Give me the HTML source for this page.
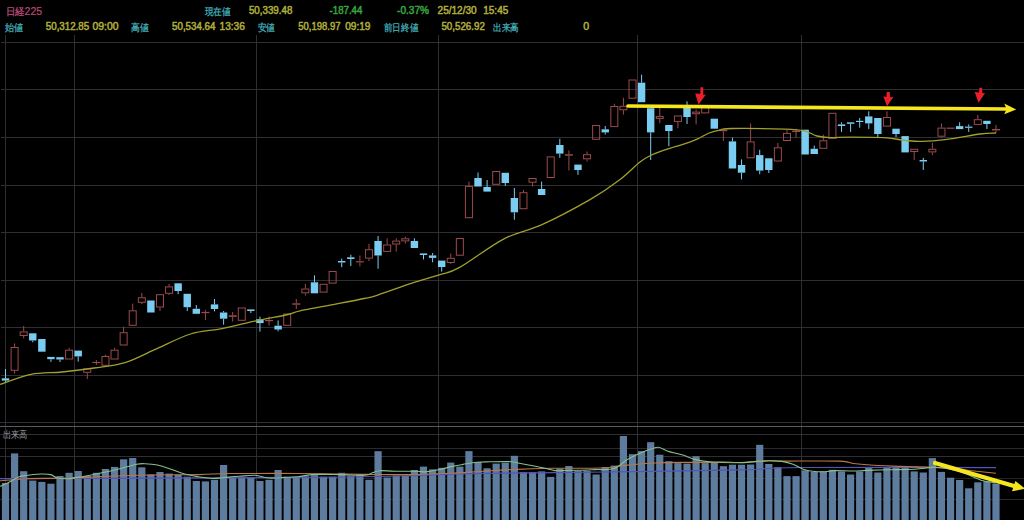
<!DOCTYPE html>
<html><head><meta charset="utf-8"><style>
html,body{margin:0;padding:0;background:#000;width:1024px;height:520px;overflow:hidden}
svg{display:block}
text{font-family:"Liberation Sans",sans-serif;font-size:10px}
</style></head><body>
<svg width="1024" height="520" viewBox="0 0 1024 520">
<rect width="1024" height="520" fill="#000"/>
<rect x="1" y="42" width="1023" height="1" fill="#2e2e33"/>
<rect x="1" y="89" width="1023" height="1" fill="#2e2e33"/>
<rect x="1" y="137" width="1023" height="1" fill="#2e2e33"/>
<rect x="1" y="185" width="1023" height="1" fill="#2e2e33"/>
<rect x="1" y="232" width="1023" height="1" fill="#2e2e33"/>
<rect x="1" y="280" width="1023" height="1" fill="#2e2e33"/>
<rect x="1" y="327" width="1023" height="1" fill="#2e2e33"/>
<rect x="1" y="375" width="1023" height="1" fill="#2e2e33"/>
<rect x="5" y="35" width="1" height="485" fill="#2e2e33"/>
<rect x="74" y="35" width="1" height="485" fill="#2e2e33"/>
<rect x="256" y="35" width="1" height="485" fill="#2e2e33"/>
<rect x="438" y="35" width="1" height="485" fill="#2e2e33"/>
<rect x="637" y="35" width="1" height="485" fill="#2e2e33"/>
<rect x="801" y="35" width="1" height="485" fill="#2e2e33"/>
<rect x="0" y="422" width="1024" height="1" fill="#303034"/>
<rect x="0" y="426" width="1024" height="1" fill="#5a5a5e"/>
<rect x="0" y="434" width="1024" height="1" fill="#2e2e33"/>
<rect x="0" y="448" width="1024" height="1" fill="#2a2a2e"/>
<rect x="0" y="456" width="1024" height="1" fill="#2e2e33"/>
<rect x="0" y="478" width="1024" height="1" fill="#222226"/>
<rect x="0" y="499" width="1024" height="1" fill="#2a2a2e"/>
<rect x="1.90" y="483.0" width="7.2" height="37.0" fill="#5e7c9e"/>
<rect x="10.99" y="453.4" width="7.2" height="66.6" fill="#5e7c9e"/>
<rect x="20.07" y="471.2" width="7.2" height="48.8" fill="#5e7c9e"/>
<rect x="29.16" y="480.6" width="7.2" height="39.4" fill="#5e7c9e"/>
<rect x="38.25" y="481.9" width="7.2" height="38.1" fill="#5e7c9e"/>
<rect x="47.34" y="483.7" width="7.2" height="36.3" fill="#5e7c9e"/>
<rect x="56.42" y="476.0" width="7.2" height="44.0" fill="#5e7c9e"/>
<rect x="65.51" y="472.8" width="7.2" height="47.2" fill="#5e7c9e"/>
<rect x="74.60" y="471.0" width="7.2" height="49.0" fill="#5e7c9e"/>
<rect x="83.68" y="476.0" width="7.2" height="44.0" fill="#5e7c9e"/>
<rect x="92.77" y="472.8" width="7.2" height="47.2" fill="#5e7c9e"/>
<rect x="101.86" y="469.0" width="7.2" height="51.0" fill="#5e7c9e"/>
<rect x="110.94" y="466.9" width="7.2" height="53.1" fill="#5e7c9e"/>
<rect x="120.03" y="459.3" width="7.2" height="60.7" fill="#5e7c9e"/>
<rect x="129.12" y="458.0" width="7.2" height="62.0" fill="#5e7c9e"/>
<rect x="138.21" y="467.3" width="7.2" height="52.7" fill="#5e7c9e"/>
<rect x="147.29" y="474.4" width="7.2" height="45.6" fill="#5e7c9e"/>
<rect x="156.38" y="472.0" width="7.2" height="48.0" fill="#5e7c9e"/>
<rect x="165.47" y="473.6" width="7.2" height="46.4" fill="#5e7c9e"/>
<rect x="174.55" y="474.7" width="7.2" height="45.3" fill="#5e7c9e"/>
<rect x="183.64" y="476.7" width="7.2" height="43.3" fill="#5e7c9e"/>
<rect x="192.73" y="481.0" width="7.2" height="39.0" fill="#5e7c9e"/>
<rect x="201.81" y="481.4" width="7.2" height="38.6" fill="#5e7c9e"/>
<rect x="210.90" y="479.8" width="7.2" height="40.2" fill="#5e7c9e"/>
<rect x="219.99" y="465.0" width="7.2" height="55.0" fill="#5e7c9e"/>
<rect x="229.07" y="477.5" width="7.2" height="42.5" fill="#5e7c9e"/>
<rect x="238.16" y="477.5" width="7.2" height="42.5" fill="#5e7c9e"/>
<rect x="247.25" y="477.5" width="7.2" height="42.5" fill="#5e7c9e"/>
<rect x="256.34" y="481.0" width="7.2" height="39.0" fill="#5e7c9e"/>
<rect x="265.42" y="479.8" width="7.2" height="40.2" fill="#5e7c9e"/>
<rect x="274.51" y="470.0" width="7.2" height="50.0" fill="#5e7c9e"/>
<rect x="283.60" y="477.2" width="7.2" height="42.8" fill="#5e7c9e"/>
<rect x="292.68" y="476.7" width="7.2" height="43.3" fill="#5e7c9e"/>
<rect x="301.77" y="476.2" width="7.2" height="43.8" fill="#5e7c9e"/>
<rect x="310.86" y="475.2" width="7.2" height="44.8" fill="#5e7c9e"/>
<rect x="319.94" y="476.7" width="7.2" height="43.3" fill="#5e7c9e"/>
<rect x="329.03" y="476.7" width="7.2" height="43.3" fill="#5e7c9e"/>
<rect x="338.12" y="472.8" width="7.2" height="47.2" fill="#5e7c9e"/>
<rect x="347.21" y="475.6" width="7.2" height="44.4" fill="#5e7c9e"/>
<rect x="356.29" y="474.0" width="7.2" height="46.0" fill="#5e7c9e"/>
<rect x="365.38" y="479.8" width="7.2" height="40.2" fill="#5e7c9e"/>
<rect x="374.47" y="451.2" width="7.2" height="68.8" fill="#5e7c9e"/>
<rect x="383.55" y="477.5" width="7.2" height="42.5" fill="#5e7c9e"/>
<rect x="392.64" y="475.6" width="7.2" height="44.4" fill="#5e7c9e"/>
<rect x="401.73" y="475.6" width="7.2" height="44.4" fill="#5e7c9e"/>
<rect x="410.81" y="470.0" width="7.2" height="50.0" fill="#5e7c9e"/>
<rect x="419.90" y="466.6" width="7.2" height="53.4" fill="#5e7c9e"/>
<rect x="428.99" y="469.4" width="7.2" height="50.6" fill="#5e7c9e"/>
<rect x="438.08" y="467.8" width="7.2" height="52.2" fill="#5e7c9e"/>
<rect x="447.16" y="462.6" width="7.2" height="57.4" fill="#5e7c9e"/>
<rect x="456.25" y="466.6" width="7.2" height="53.4" fill="#5e7c9e"/>
<rect x="465.34" y="451.1" width="7.2" height="68.9" fill="#5e7c9e"/>
<rect x="474.42" y="462.0" width="7.2" height="58.0" fill="#5e7c9e"/>
<rect x="483.51" y="468.3" width="7.2" height="51.7" fill="#5e7c9e"/>
<rect x="492.60" y="463.6" width="7.2" height="56.4" fill="#5e7c9e"/>
<rect x="501.68" y="462.8" width="7.2" height="57.2" fill="#5e7c9e"/>
<rect x="510.77" y="455.8" width="7.2" height="64.2" fill="#5e7c9e"/>
<rect x="519.86" y="472.2" width="7.2" height="47.8" fill="#5e7c9e"/>
<rect x="528.95" y="472.2" width="7.2" height="47.8" fill="#5e7c9e"/>
<rect x="538.03" y="471.4" width="7.2" height="48.6" fill="#5e7c9e"/>
<rect x="547.12" y="476.9" width="7.2" height="43.1" fill="#5e7c9e"/>
<rect x="556.21" y="468.8" width="7.2" height="51.2" fill="#5e7c9e"/>
<rect x="565.29" y="466.0" width="7.2" height="54.0" fill="#5e7c9e"/>
<rect x="574.38" y="471.0" width="7.2" height="49.0" fill="#5e7c9e"/>
<rect x="583.47" y="471.0" width="7.2" height="49.0" fill="#5e7c9e"/>
<rect x="592.55" y="474.5" width="7.2" height="45.5" fill="#5e7c9e"/>
<rect x="601.64" y="467.2" width="7.2" height="52.8" fill="#5e7c9e"/>
<rect x="610.73" y="465.6" width="7.2" height="54.4" fill="#5e7c9e"/>
<rect x="619.82" y="436.0" width="7.2" height="84.0" fill="#5e7c9e"/>
<rect x="628.90" y="454.2" width="7.2" height="65.8" fill="#5e7c9e"/>
<rect x="637.99" y="451.1" width="7.2" height="68.9" fill="#5e7c9e"/>
<rect x="647.08" y="442.2" width="7.2" height="77.8" fill="#5e7c9e"/>
<rect x="656.16" y="454.7" width="7.2" height="65.3" fill="#5e7c9e"/>
<rect x="665.25" y="461.2" width="7.2" height="58.8" fill="#5e7c9e"/>
<rect x="674.34" y="463.1" width="7.2" height="56.9" fill="#5e7c9e"/>
<rect x="683.42" y="463.6" width="7.2" height="56.4" fill="#5e7c9e"/>
<rect x="692.51" y="456.2" width="7.2" height="63.8" fill="#5e7c9e"/>
<rect x="701.60" y="463.1" width="7.2" height="56.9" fill="#5e7c9e"/>
<rect x="710.69" y="462.8" width="7.2" height="57.2" fill="#5e7c9e"/>
<rect x="719.77" y="466.2" width="7.2" height="53.8" fill="#5e7c9e"/>
<rect x="728.86" y="464.7" width="7.2" height="55.3" fill="#5e7c9e"/>
<rect x="737.95" y="464.7" width="7.2" height="55.3" fill="#5e7c9e"/>
<rect x="747.03" y="464.5" width="7.2" height="55.5" fill="#5e7c9e"/>
<rect x="756.12" y="444.8" width="7.2" height="75.2" fill="#5e7c9e"/>
<rect x="765.21" y="464.0" width="7.2" height="56.0" fill="#5e7c9e"/>
<rect x="774.29" y="467.2" width="7.2" height="52.8" fill="#5e7c9e"/>
<rect x="783.38" y="476.1" width="7.2" height="43.9" fill="#5e7c9e"/>
<rect x="792.47" y="476.1" width="7.2" height="43.9" fill="#5e7c9e"/>
<rect x="801.56" y="470.3" width="7.2" height="49.7" fill="#5e7c9e"/>
<rect x="810.64" y="471.9" width="7.2" height="48.1" fill="#5e7c9e"/>
<rect x="819.73" y="471.4" width="7.2" height="48.6" fill="#5e7c9e"/>
<rect x="828.82" y="469.8" width="7.2" height="50.2" fill="#5e7c9e"/>
<rect x="837.90" y="471.4" width="7.2" height="48.6" fill="#5e7c9e"/>
<rect x="846.99" y="474.5" width="7.2" height="45.5" fill="#5e7c9e"/>
<rect x="856.08" y="471.4" width="7.2" height="48.6" fill="#5e7c9e"/>
<rect x="865.16" y="467.2" width="7.2" height="52.8" fill="#5e7c9e"/>
<rect x="874.25" y="472.5" width="7.2" height="47.5" fill="#5e7c9e"/>
<rect x="883.34" y="467.5" width="7.2" height="52.5" fill="#5e7c9e"/>
<rect x="892.43" y="467.5" width="7.2" height="52.5" fill="#5e7c9e"/>
<rect x="901.51" y="467.8" width="7.2" height="52.2" fill="#5e7c9e"/>
<rect x="910.60" y="471.4" width="7.2" height="48.6" fill="#5e7c9e"/>
<rect x="919.69" y="472.5" width="7.2" height="47.5" fill="#5e7c9e"/>
<rect x="928.77" y="458.1" width="7.2" height="61.9" fill="#5e7c9e"/>
<rect x="937.86" y="471.9" width="7.2" height="48.1" fill="#5e7c9e"/>
<rect x="946.95" y="477.7" width="7.2" height="42.3" fill="#5e7c9e"/>
<rect x="956.03" y="480.0" width="7.2" height="40.0" fill="#5e7c9e"/>
<rect x="965.12" y="488.3" width="7.2" height="31.7" fill="#5e7c9e"/>
<rect x="974.21" y="482.3" width="7.2" height="37.7" fill="#5e7c9e"/>
<rect x="983.30" y="481.3" width="7.2" height="38.7" fill="#5e7c9e"/>
<rect x="992.38" y="483.5" width="7.2" height="36.5" fill="#5e7c9e"/>
<path d="M0.0,478.7 C50.0,478.5 233.3,477.8 300.0,477.4 C366.7,476.9 371.7,476.6 400.0,476.0 C428.3,475.4 435.8,474.4 470.0,473.7 C504.2,473.0 560.0,472.6 605.0,472.0 C650.0,471.4 707.5,470.6 740.0,469.9 C772.5,469.1 757.3,467.9 800.0,467.5 C842.7,467.1 963.3,467.7 996.0,467.7" fill="none" stroke="#5454b8" stroke-width="1.2"/>
<path d="M0.0,480.8 C4.6,480.4 16.0,479.2 27.4,478.7 C38.8,478.2 50.2,478.6 68.4,478.0 C86.6,477.4 115.1,475.9 136.8,475.3 C158.5,474.7 182.9,474.9 198.4,474.6 C213.9,474.3 213.3,473.7 230.0,473.5 C246.7,473.3 275.6,473.4 298.4,473.5 C321.2,473.6 348.2,474.2 366.8,474.4 C385.4,474.6 396.1,474.8 410.0,474.6 C423.9,474.4 438.3,473.8 450.0,473.3 C461.7,472.8 469.8,472.1 480.0,471.5 C490.2,470.9 499.0,470.1 511.0,469.6 C523.0,469.1 537.2,468.6 552.0,468.3 C566.8,468.0 587.4,468.5 600.0,468.0 C612.6,467.5 618.3,465.9 627.4,465.1 C636.5,464.3 645.6,463.4 654.7,463.0 C663.8,462.6 672.9,462.5 682.0,462.4 C691.1,462.3 699.7,462.4 709.4,462.4 C719.1,462.4 730.9,462.9 740.0,462.6 C749.1,462.4 756.8,461.1 764.2,460.9 C771.7,460.6 772.2,461.1 784.7,461.1 C797.2,461.1 828.0,460.7 839.4,461.1 C850.8,461.5 847.9,462.9 853.0,463.5 C858.1,464.1 862.0,464.5 870.0,465.0 C878.0,465.5 889.0,465.9 901.0,466.4 C913.0,466.9 930.6,467.1 942.0,467.8 C953.4,468.5 960.4,469.6 969.4,470.5 C978.4,471.4 991.6,472.8 996.0,473.3" fill="none" stroke="#b87848" stroke-width="1.1"/>
<path d="M0.0,486.3 C1.4,485.7 5.0,484.4 8.2,482.8 C11.4,481.2 16.0,477.9 19.2,476.7 C22.4,475.4 23.8,475.8 27.4,475.3 C31.0,474.9 37.1,474.1 41.0,474.0 C44.9,473.9 47.9,473.9 50.6,474.6 C53.4,475.3 54.5,477.3 57.5,478.0 C60.5,478.7 64.3,478.9 68.4,478.7 C72.5,478.5 77.4,477.5 82.0,476.7 C86.6,475.9 91.2,474.9 95.8,474.0 C100.4,473.1 104.9,472.2 109.4,471.2 C114.0,470.2 118.5,469.0 123.1,467.8 C127.7,466.6 133.2,464.9 136.8,464.2 C140.5,463.5 141.6,463.6 145.0,463.7 C148.4,463.8 153.1,464.1 157.4,465.0 C161.7,465.9 166.4,467.7 171.0,469.2 C175.6,470.7 180.1,472.8 184.7,474.0 C189.3,475.2 193.8,475.9 198.4,476.7 C203.0,477.4 207.4,478.4 212.0,478.5 C216.6,478.6 221.2,477.8 225.8,477.4 C230.4,477.0 234.5,476.6 239.4,476.3 C244.3,476.0 250.1,475.0 255.0,475.3 C259.9,475.6 264.1,477.6 269.0,478.0 C273.9,478.4 279.8,477.6 284.7,477.4 C289.6,477.2 293.8,477.2 298.4,476.7 C302.9,476.2 305.2,475.0 312.0,474.6 C318.8,474.2 330.6,474.5 339.4,474.6 C348.2,474.7 359.4,475.6 365.0,475.3 C370.6,475.0 370.3,473.4 372.8,472.6 C375.3,471.8 376.4,470.9 380.0,470.7 C383.6,470.5 388.6,471.1 394.7,471.2 C400.8,471.3 411.6,471.1 416.6,471.2 C421.6,471.3 421.2,472.1 424.8,471.9 C428.4,471.7 433.9,470.7 438.5,469.8 C443.1,468.9 448.1,467.3 452.2,466.4 C456.3,465.5 458.9,465.1 463.0,464.4 C467.1,463.7 472.3,462.6 476.8,462.2 C481.3,461.8 484.3,461.9 490.0,461.8 C495.7,461.7 506.1,461.4 511.0,461.7 C515.9,461.9 515.8,462.7 519.2,463.3 C522.6,463.9 527.3,464.7 531.6,465.5 C535.9,466.3 541.3,467.4 545.2,468.3 C549.1,469.2 551.4,470.2 554.8,470.6 C558.2,471.0 561.7,470.6 565.8,470.5 C569.9,470.4 574.5,470.4 579.4,470.3 C584.3,470.2 589.3,469.9 595.0,469.6 C600.7,469.3 608.3,470.3 613.7,468.6 C619.1,466.9 622.9,462.2 627.4,459.6 C631.9,457.0 636.9,454.6 641.0,452.8 C645.1,451.0 649.0,449.6 652.0,448.7 C655.0,447.8 656.1,446.9 658.8,447.3 C661.5,447.8 664.5,450.1 668.4,451.4 C672.3,452.6 677.4,453.4 682.0,454.8 C686.6,456.2 691.2,458.5 695.8,459.6 C700.4,460.8 704.9,461.3 709.4,461.7 C713.9,462.1 717.3,462.0 723.0,462.1 C728.7,462.2 738.0,462.7 743.7,462.6 C749.4,462.5 752.9,461.7 757.4,461.4 C761.9,461.1 766.9,460.7 771.0,460.7 C775.1,460.7 778.3,460.8 782.0,461.4 C785.7,462.0 789.4,462.9 793.0,464.2 C796.6,465.5 800.3,468.2 803.9,469.4 C807.5,470.6 811.1,471.1 814.8,471.5 C818.4,471.9 822.6,471.8 825.8,471.7 C829.0,471.6 829.5,470.7 834.0,470.6 C838.5,470.5 847.5,471.0 853.0,471.0 C858.5,471.0 861.1,470.6 866.8,470.4 C872.5,470.2 879.4,470.0 887.4,469.8 C895.4,469.6 907.9,469.5 914.7,469.2 C921.5,468.9 924.8,468.1 928.4,467.8 C932.0,467.5 932.0,466.8 936.6,467.2 C941.2,467.6 950.3,469.1 955.8,470.5 C961.3,471.9 964.8,473.6 969.4,475.3 C974.0,477.0 978.8,479.6 983.1,480.8 C987.4,482.1 993.4,482.5 995.4,482.8" fill="none" stroke="#86c08a" stroke-width="1.1"/>
<rect x="5.00" y="369.0" width="1" height="9.3" fill="#7accf0"/>
<rect x="5.00" y="380.6" width="1" height="1.4" fill="#7accf0"/>
<rect x="1.80" y="378.3" width="7.4" height="2.3" fill="#7accf0"/>
<rect x="14.09" y="343.4" width="1" height="3.6" fill="#9c4a4e"/>
<rect x="14.09" y="370.8" width="1" height="2.8" fill="#9c4a4e"/>
<rect x="11.09" y="347.5" width="7" height="22.8" fill="none" stroke="#9c4a4e" stroke-width="1"/>
<rect x="23.17" y="326.0" width="1" height="5.4" fill="#9c4a4e"/>
<rect x="23.17" y="336.0" width="1" height="2.4" fill="#9c4a4e"/>
<rect x="20.17" y="331.9" width="7" height="3.6" fill="none" stroke="#9c4a4e" stroke-width="1"/>
<rect x="32.26" y="340.5" width="1" height="1.8" fill="#7accf0"/>
<rect x="29.06" y="333.3" width="7.4" height="7.2" fill="#7accf0"/>
<rect x="38.15" y="339.0" width="7.4" height="12.7" fill="#7accf0"/>
<rect x="50.44" y="359.2" width="1" height="2.7" fill="#7accf0"/>
<rect x="47.23" y="356.9" width="7.4" height="2.3" fill="#7accf0"/>
<rect x="59.52" y="359.5" width="1" height="2.5" fill="#7accf0"/>
<rect x="56.32" y="357.2" width="7.4" height="2.3" fill="#7accf0"/>
<rect x="68.61" y="347.8" width="1" height="1.9" fill="#9c4a4e"/>
<rect x="65.61" y="350.2" width="7" height="8.8" fill="none" stroke="#9c4a4e" stroke-width="1"/>
<rect x="77.70" y="356.4" width="1" height="5.2" fill="#7accf0"/>
<rect x="74.50" y="350.6" width="7.4" height="5.8" fill="#7accf0"/>
<rect x="86.78" y="372.8" width="1" height="6.2" fill="#9c4a4e"/>
<rect x="83.78" y="368.9" width="7" height="3.4" fill="none" stroke="#9c4a4e" stroke-width="1"/>
<rect x="95.87" y="360.0" width="1" height="1.9" fill="#9c4a4e"/>
<rect x="95.87" y="363.1" width="1" height="1.9" fill="#9c4a4e"/>
<rect x="92.37" y="361.9" width="8" height="1.2" fill="#9c4a4e"/>
<rect x="104.96" y="354.8" width="1" height="1.2" fill="#9c4a4e"/>
<rect x="101.96" y="356.5" width="7" height="8.8" fill="none" stroke="#9c4a4e" stroke-width="1"/>
<rect x="114.04" y="347.8" width="1" height="1.9" fill="#9c4a4e"/>
<rect x="111.04" y="350.2" width="7" height="8.8" fill="none" stroke="#9c4a4e" stroke-width="1"/>
<rect x="123.13" y="326.7" width="1" height="5.5" fill="#9c4a4e"/>
<rect x="120.13" y="332.7" width="7" height="12.3" fill="none" stroke="#9c4a4e" stroke-width="1"/>
<rect x="132.22" y="303.6" width="1" height="6.7" fill="#9c4a4e"/>
<rect x="129.22" y="310.8" width="7" height="14.5" fill="none" stroke="#9c4a4e" stroke-width="1"/>
<rect x="141.31" y="293.0" width="1" height="4.3" fill="#9c4a4e"/>
<rect x="141.31" y="302.8" width="1" height="1.2" fill="#9c4a4e"/>
<rect x="138.31" y="297.8" width="7" height="4.5" fill="none" stroke="#9c4a4e" stroke-width="1"/>
<rect x="147.19" y="300.5" width="7.4" height="12.0" fill="#7accf0"/>
<rect x="159.48" y="307.5" width="1" height="3.5" fill="#9c4a4e"/>
<rect x="156.48" y="294.7" width="7" height="12.3" fill="none" stroke="#9c4a4e" stroke-width="1"/>
<rect x="168.57" y="284.0" width="1" height="2.4" fill="#9c4a4e"/>
<rect x="168.57" y="293.8" width="1" height="1.2" fill="#9c4a4e"/>
<rect x="165.57" y="286.9" width="7" height="6.4" fill="none" stroke="#9c4a4e" stroke-width="1"/>
<rect x="177.65" y="291.0" width="1" height="3.2" fill="#7accf0"/>
<rect x="174.45" y="283.3" width="7.4" height="7.7" fill="#7accf0"/>
<rect x="186.74" y="307.2" width="1" height="3.8" fill="#7accf0"/>
<rect x="183.54" y="293.8" width="7.4" height="13.4" fill="#7accf0"/>
<rect x="195.83" y="305.0" width="1" height="3.8" fill="#7accf0"/>
<rect x="192.63" y="308.8" width="7.4" height="5.0" fill="#7accf0"/>
<rect x="204.91" y="309.8" width="1" height="2.1" fill="#9c4a4e"/>
<rect x="204.91" y="313.0" width="1" height="7.0" fill="#9c4a4e"/>
<rect x="201.41" y="311.9" width="8" height="1.2" fill="#9c4a4e"/>
<rect x="214.00" y="299.0" width="1" height="5.4" fill="#7accf0"/>
<rect x="214.00" y="309.0" width="1" height="2.4" fill="#7accf0"/>
<rect x="210.80" y="304.4" width="7.4" height="4.6" fill="#7accf0"/>
<rect x="223.09" y="311.0" width="1" height="1.5" fill="#7accf0"/>
<rect x="223.09" y="318.8" width="1" height="5.9" fill="#7accf0"/>
<rect x="219.89" y="312.5" width="7.4" height="6.2" fill="#7accf0"/>
<rect x="232.17" y="312.0" width="1" height="3.3" fill="#9c4a4e"/>
<rect x="232.17" y="316.9" width="1" height="4.7" fill="#9c4a4e"/>
<rect x="228.67" y="315.3" width="8" height="1.6" fill="#9c4a4e"/>
<rect x="238.26" y="308.0" width="7" height="12.3" fill="none" stroke="#9c4a4e" stroke-width="1"/>
<rect x="250.35" y="311.0" width="1" height="2.0" fill="#7accf0"/>
<rect x="247.15" y="309.4" width="7.4" height="1.6" fill="#7accf0"/>
<rect x="259.44" y="316.6" width="1" height="2.6" fill="#7accf0"/>
<rect x="259.44" y="323.1" width="1" height="8.6" fill="#7accf0"/>
<rect x="256.24" y="319.2" width="7.4" height="3.9" fill="#7accf0"/>
<rect x="268.52" y="316.6" width="1" height="3.4" fill="#9c4a4e"/>
<rect x="268.52" y="320.8" width="1" height="4.7" fill="#9c4a4e"/>
<rect x="265.02" y="320.0" width="8" height="1.2" fill="#9c4a4e"/>
<rect x="277.61" y="320.4" width="1" height="5.3" fill="#7accf0"/>
<rect x="277.61" y="329.5" width="1" height="1.8" fill="#7accf0"/>
<rect x="274.41" y="325.7" width="7.4" height="3.8" fill="#7accf0"/>
<rect x="283.70" y="314.0" width="7" height="11.3" fill="none" stroke="#9c4a4e" stroke-width="1"/>
<rect x="295.78" y="299.0" width="1" height="4.3" fill="#9c4a4e"/>
<rect x="295.78" y="304.7" width="1" height="4.3" fill="#9c4a4e"/>
<rect x="292.28" y="303.3" width="8" height="1.4" fill="#9c4a4e"/>
<rect x="304.87" y="284.0" width="1" height="4.5" fill="#9c4a4e"/>
<rect x="304.87" y="293.3" width="1" height="2.3" fill="#9c4a4e"/>
<rect x="301.87" y="289.0" width="7" height="3.8" fill="none" stroke="#9c4a4e" stroke-width="1"/>
<rect x="313.96" y="275.3" width="1" height="7.0" fill="#7accf0"/>
<rect x="310.76" y="282.3" width="7.4" height="11.0" fill="#7accf0"/>
<rect x="320.05" y="284.3" width="7" height="7.8" fill="none" stroke="#9c4a4e" stroke-width="1"/>
<rect x="329.13" y="271.5" width="7" height="11.6" fill="none" stroke="#9c4a4e" stroke-width="1"/>
<rect x="341.22" y="258.6" width="1" height="2.4" fill="#7accf0"/>
<rect x="341.22" y="262.5" width="1" height="4.7" fill="#7accf0"/>
<rect x="338.02" y="261.0" width="7.4" height="1.5" fill="#7accf0"/>
<rect x="350.31" y="254.7" width="1" height="2.6" fill="#7accf0"/>
<rect x="350.31" y="259.0" width="1" height="7.0" fill="#7accf0"/>
<rect x="347.11" y="257.3" width="7.4" height="1.7" fill="#7accf0"/>
<rect x="359.39" y="255.5" width="1" height="5.8" fill="#9c4a4e"/>
<rect x="359.39" y="262.5" width="1" height="3.9" fill="#9c4a4e"/>
<rect x="355.89" y="261.2" width="8" height="1.2" fill="#9c4a4e"/>
<rect x="368.48" y="243.8" width="1" height="5.4" fill="#9c4a4e"/>
<rect x="368.48" y="258.6" width="1" height="2.4" fill="#9c4a4e"/>
<rect x="365.48" y="249.7" width="7" height="8.4" fill="none" stroke="#9c4a4e" stroke-width="1"/>
<rect x="377.57" y="236.0" width="1" height="5.0" fill="#7accf0"/>
<rect x="377.57" y="255.5" width="1" height="13.2" fill="#7accf0"/>
<rect x="374.37" y="241.0" width="7.4" height="14.5" fill="#7accf0"/>
<rect x="386.65" y="238.3" width="1" height="6.2" fill="#9c4a4e"/>
<rect x="383.65" y="245.0" width="7" height="6.4" fill="none" stroke="#9c4a4e" stroke-width="1"/>
<rect x="395.74" y="238.3" width="1" height="2.3" fill="#9c4a4e"/>
<rect x="395.74" y="244.5" width="1" height="7.1" fill="#9c4a4e"/>
<rect x="392.74" y="241.1" width="7" height="2.9" fill="none" stroke="#9c4a4e" stroke-width="1"/>
<rect x="404.83" y="236.7" width="1" height="1.6" fill="#9c4a4e"/>
<rect x="404.83" y="241.4" width="1" height="2.3" fill="#9c4a4e"/>
<rect x="401.83" y="238.8" width="7" height="2.1" fill="none" stroke="#9c4a4e" stroke-width="1"/>
<rect x="413.91" y="238.3" width="1" height="2.7" fill="#7accf0"/>
<rect x="410.71" y="241.0" width="7.4" height="7.0" fill="#7accf0"/>
<rect x="423.00" y="255.0" width="1" height="4.4" fill="#7accf0"/>
<rect x="419.80" y="253.4" width="7.4" height="1.6" fill="#7accf0"/>
<rect x="432.09" y="253.0" width="1" height="2.4" fill="#7accf0"/>
<rect x="432.09" y="257.9" width="1" height="4.4" fill="#7accf0"/>
<rect x="428.89" y="255.4" width="7.4" height="2.5" fill="#7accf0"/>
<rect x="441.18" y="267.0" width="1" height="4.6" fill="#7accf0"/>
<rect x="437.98" y="260.6" width="7.4" height="6.4" fill="#7accf0"/>
<rect x="450.26" y="253.6" width="1" height="4.2" fill="#9c4a4e"/>
<rect x="450.26" y="263.0" width="1" height="1.0" fill="#9c4a4e"/>
<rect x="447.26" y="258.3" width="7" height="4.2" fill="none" stroke="#9c4a4e" stroke-width="1"/>
<rect x="456.35" y="238.5" width="7" height="16.7" fill="none" stroke="#9c4a4e" stroke-width="1"/>
<rect x="468.44" y="181.6" width="1" height="4.3" fill="#9c4a4e"/>
<rect x="465.44" y="186.4" width="7" height="31.3" fill="none" stroke="#9c4a4e" stroke-width="1"/>
<rect x="477.52" y="172.5" width="1" height="5.5" fill="#7accf0"/>
<rect x="474.32" y="178.0" width="7.4" height="8.5" fill="#7accf0"/>
<rect x="486.61" y="180.0" width="1" height="7.0" fill="#7accf0"/>
<rect x="483.41" y="187.0" width="7.4" height="4.6" fill="#7accf0"/>
<rect x="492.70" y="171.5" width="7" height="12.8" fill="none" stroke="#9c4a4e" stroke-width="1"/>
<rect x="504.78" y="183.0" width="1" height="3.0" fill="#7accf0"/>
<rect x="501.58" y="172.8" width="7.4" height="10.2" fill="#7accf0"/>
<rect x="513.87" y="188.0" width="1" height="10.0" fill="#7accf0"/>
<rect x="513.87" y="212.3" width="1" height="7.4" fill="#7accf0"/>
<rect x="510.67" y="198.0" width="7.4" height="14.3" fill="#7accf0"/>
<rect x="522.96" y="190.0" width="1" height="2.2" fill="#9c4a4e"/>
<rect x="519.96" y="192.7" width="7" height="16.0" fill="none" stroke="#9c4a4e" stroke-width="1"/>
<rect x="532.05" y="182.7" width="1" height="3.8" fill="#9c4a4e"/>
<rect x="529.05" y="178.5" width="7" height="3.7" fill="none" stroke="#9c4a4e" stroke-width="1"/>
<rect x="541.13" y="181.6" width="1" height="7.4" fill="#7accf0"/>
<rect x="537.93" y="189.0" width="7.4" height="6.0" fill="#7accf0"/>
<rect x="547.22" y="156.9" width="7" height="20.6" fill="none" stroke="#9c4a4e" stroke-width="1"/>
<rect x="559.31" y="138.8" width="1" height="6.2" fill="#7accf0"/>
<rect x="559.31" y="153.6" width="1" height="4.2" fill="#7accf0"/>
<rect x="556.11" y="145.0" width="7.4" height="8.6" fill="#7accf0"/>
<rect x="568.39" y="150.4" width="1" height="3.8" fill="#9c4a4e"/>
<rect x="568.39" y="155.7" width="1" height="14.8" fill="#9c4a4e"/>
<rect x="564.89" y="154.2" width="8" height="1.5" fill="#9c4a4e"/>
<rect x="577.48" y="170.0" width="1" height="4.8" fill="#7accf0"/>
<rect x="574.28" y="164.6" width="7.4" height="5.4" fill="#7accf0"/>
<rect x="586.57" y="151.5" width="1" height="2.7" fill="#9c4a4e"/>
<rect x="586.57" y="159.3" width="1" height="2.1" fill="#9c4a4e"/>
<rect x="583.57" y="154.7" width="7" height="4.1" fill="none" stroke="#9c4a4e" stroke-width="1"/>
<rect x="592.65" y="125.5" width="7" height="13.8" fill="none" stroke="#9c4a4e" stroke-width="1"/>
<rect x="604.74" y="126.0" width="1" height="3.3" fill="#7accf0"/>
<rect x="604.74" y="132.4" width="1" height="2.1" fill="#7accf0"/>
<rect x="601.54" y="129.3" width="7.4" height="3.1" fill="#7accf0"/>
<rect x="613.83" y="103.7" width="1" height="2.3" fill="#9c4a4e"/>
<rect x="610.83" y="106.5" width="7" height="20.1" fill="none" stroke="#9c4a4e" stroke-width="1"/>
<rect x="622.92" y="97.8" width="1" height="8.0" fill="#9c4a4e"/>
<rect x="622.92" y="110.3" width="1" height="4.2" fill="#9c4a4e"/>
<rect x="619.92" y="106.3" width="7" height="3.5" fill="none" stroke="#9c4a4e" stroke-width="1"/>
<rect x="629.00" y="80.0" width="7" height="18.2" fill="none" stroke="#9c4a4e" stroke-width="1"/>
<rect x="641.09" y="74.7" width="1" height="8.0" fill="#7accf0"/>
<rect x="637.89" y="82.7" width="7.4" height="19.5" fill="#7accf0"/>
<rect x="650.18" y="132.4" width="1" height="27.6" fill="#7accf0"/>
<rect x="646.98" y="108.2" width="7.4" height="24.2" fill="#7accf0"/>
<rect x="659.26" y="108.0" width="1" height="8.1" fill="#9c4a4e"/>
<rect x="659.26" y="118.9" width="1" height="4.4" fill="#9c4a4e"/>
<rect x="656.26" y="116.6" width="7" height="1.8" fill="none" stroke="#9c4a4e" stroke-width="1"/>
<rect x="668.35" y="131.0" width="1" height="15.2" fill="#7accf0"/>
<rect x="665.15" y="125.0" width="7.4" height="6.0" fill="#7accf0"/>
<rect x="677.44" y="121.9" width="1" height="6.3" fill="#9c4a4e"/>
<rect x="674.44" y="116.0" width="7" height="5.4" fill="none" stroke="#9c4a4e" stroke-width="1"/>
<rect x="686.52" y="101.3" width="1" height="6.4" fill="#7accf0"/>
<rect x="686.52" y="117.0" width="1" height="7.0" fill="#7accf0"/>
<rect x="683.32" y="107.7" width="7.4" height="9.3" fill="#7accf0"/>
<rect x="695.61" y="109.6" width="1" height="2.0" fill="#9c4a4e"/>
<rect x="695.61" y="114.2" width="1" height="10.2" fill="#9c4a4e"/>
<rect x="692.61" y="112.1" width="7" height="1.6" fill="none" stroke="#9c4a4e" stroke-width="1"/>
<rect x="701.70" y="107.6" width="7" height="5.3" fill="none" stroke="#9c4a4e" stroke-width="1"/>
<rect x="710.59" y="118.7" width="7.4" height="10.0" fill="#7accf0"/>
<rect x="722.87" y="131.2" width="1" height="9.8" fill="#9c4a4e"/>
<rect x="719.37" y="129.7" width="8" height="1.5" fill="#9c4a4e"/>
<rect x="731.96" y="137.6" width="1" height="3.8" fill="#7accf0"/>
<rect x="728.76" y="141.4" width="7.4" height="27.1" fill="#7accf0"/>
<rect x="741.05" y="159.4" width="1" height="5.6" fill="#7accf0"/>
<rect x="741.05" y="172.7" width="1" height="6.8" fill="#7accf0"/>
<rect x="737.85" y="165.0" width="7.4" height="7.7" fill="#7accf0"/>
<rect x="750.13" y="123.4" width="1" height="18.0" fill="#9c4a4e"/>
<rect x="747.13" y="141.9" width="7" height="15.9" fill="none" stroke="#9c4a4e" stroke-width="1"/>
<rect x="759.22" y="149.8" width="1" height="5.3" fill="#7accf0"/>
<rect x="759.22" y="170.6" width="1" height="3.6" fill="#7accf0"/>
<rect x="756.02" y="155.1" width="7.4" height="15.5" fill="#7accf0"/>
<rect x="768.31" y="170.0" width="1" height="3.0" fill="#7accf0"/>
<rect x="765.11" y="158.3" width="7.4" height="11.7" fill="#7accf0"/>
<rect x="777.39" y="143.0" width="1" height="4.3" fill="#9c4a4e"/>
<rect x="774.39" y="147.8" width="7" height="13.2" fill="none" stroke="#9c4a4e" stroke-width="1"/>
<rect x="786.48" y="129.7" width="1" height="3.2" fill="#9c4a4e"/>
<rect x="783.48" y="133.4" width="7" height="7.1" fill="none" stroke="#9c4a4e" stroke-width="1"/>
<rect x="795.57" y="128.7" width="1" height="2.1" fill="#9c4a4e"/>
<rect x="795.57" y="131.9" width="1" height="5.7" fill="#9c4a4e"/>
<rect x="792.07" y="130.8" width="8" height="1.2" fill="#9c4a4e"/>
<rect x="801.46" y="129.7" width="7.4" height="24.8" fill="#7accf0"/>
<rect x="813.74" y="145.6" width="1" height="3.2" fill="#7accf0"/>
<rect x="810.54" y="148.8" width="7.4" height="5.2" fill="#7accf0"/>
<rect x="822.83" y="134.6" width="1" height="5.7" fill="#9c4a4e"/>
<rect x="819.83" y="140.8" width="7" height="7.5" fill="none" stroke="#9c4a4e" stroke-width="1"/>
<rect x="828.92" y="113.3" width="7" height="25.0" fill="none" stroke="#9c4a4e" stroke-width="1"/>
<rect x="841.00" y="122.3" width="1" height="2.1" fill="#7accf0"/>
<rect x="841.00" y="126.0" width="1" height="5.9" fill="#7accf0"/>
<rect x="837.80" y="124.4" width="7.4" height="1.6" fill="#7accf0"/>
<rect x="850.09" y="123.8" width="1" height="8.1" fill="#7accf0"/>
<rect x="846.89" y="122.3" width="7.4" height="1.5" fill="#7accf0"/>
<rect x="859.18" y="118.0" width="1" height="2.8" fill="#7accf0"/>
<rect x="859.18" y="121.9" width="1" height="5.7" fill="#7accf0"/>
<rect x="855.98" y="120.8" width="7.4" height="1.2" fill="#7accf0"/>
<rect x="868.26" y="111.3" width="1" height="5.1" fill="#7accf0"/>
<rect x="868.26" y="123.4" width="1" height="5.7" fill="#7accf0"/>
<rect x="865.06" y="116.4" width="7.4" height="7.0" fill="#7accf0"/>
<rect x="877.35" y="134.0" width="1" height="4.2" fill="#7accf0"/>
<rect x="874.15" y="118.0" width="7.4" height="16.0" fill="#7accf0"/>
<rect x="886.44" y="111.3" width="1" height="5.7" fill="#9c4a4e"/>
<rect x="883.44" y="117.5" width="7" height="8.6" fill="none" stroke="#9c4a4e" stroke-width="1"/>
<rect x="895.53" y="134.0" width="1" height="3.1" fill="#7accf0"/>
<rect x="892.33" y="128.7" width="7.4" height="5.3" fill="#7accf0"/>
<rect x="901.41" y="136.1" width="7.4" height="16.3" fill="#7accf0"/>
<rect x="913.70" y="152.0" width="1" height="8.0" fill="#9c4a4e"/>
<rect x="910.70" y="149.3" width="7" height="2.2" fill="none" stroke="#9c4a4e" stroke-width="1"/>
<rect x="922.79" y="157.9" width="1" height="2.1" fill="#7accf0"/>
<rect x="922.79" y="161.5" width="1" height="8.5" fill="#7accf0"/>
<rect x="919.59" y="160.0" width="7.4" height="1.5" fill="#7accf0"/>
<rect x="931.87" y="143.0" width="1" height="5.8" fill="#9c4a4e"/>
<rect x="931.87" y="152.4" width="1" height="2.7" fill="#9c4a4e"/>
<rect x="928.87" y="149.3" width="7" height="2.6" fill="none" stroke="#9c4a4e" stroke-width="1"/>
<rect x="940.96" y="123.4" width="1" height="4.2" fill="#9c4a4e"/>
<rect x="940.96" y="136.7" width="1" height="0.9" fill="#9c4a4e"/>
<rect x="937.96" y="128.1" width="7" height="8.1" fill="none" stroke="#9c4a4e" stroke-width="1"/>
<rect x="946.55" y="127.6" width="8" height="1.2" fill="#9c4a4e"/>
<rect x="959.13" y="122.3" width="1" height="3.8" fill="#7accf0"/>
<rect x="955.93" y="126.1" width="7.4" height="3.0" fill="#7accf0"/>
<rect x="968.22" y="124.4" width="1" height="2.2" fill="#7accf0"/>
<rect x="968.22" y="127.6" width="1" height="4.3" fill="#7accf0"/>
<rect x="965.02" y="126.6" width="7.4" height="1.2" fill="#7accf0"/>
<rect x="977.31" y="115.0" width="1" height="4.2" fill="#9c4a4e"/>
<rect x="974.31" y="119.7" width="7" height="4.7" fill="none" stroke="#9c4a4e" stroke-width="1"/>
<rect x="986.40" y="124.0" width="1" height="5.0" fill="#7accf0"/>
<rect x="983.20" y="120.8" width="7.4" height="3.2" fill="#7accf0"/>
<rect x="995.48" y="125.0" width="1" height="4.0" fill="#9c4a4e"/>
<rect x="995.48" y="130.4" width="1" height="2.6" fill="#9c4a4e"/>
<rect x="991.98" y="129.0" width="8" height="1.4" fill="#9c4a4e"/>
<path d="M0.0,384.5 C5.2,382.8 20.7,376.5 31.0,374.4 C41.3,372.3 51.5,373.1 62.0,372.0 C72.5,370.9 83.5,369.6 94.0,368.0 C104.5,366.4 114.9,365.8 125.0,362.7 C135.1,359.6 143.7,354.5 154.6,349.7 C165.5,344.9 179.3,337.5 190.5,334.0 C201.7,330.5 210.8,330.8 221.8,328.6 C232.7,326.4 245.0,323.2 256.0,320.8 C267.0,318.4 280.7,316.2 288.0,314.5 C295.3,312.8 292.5,312.4 300.0,310.8 C307.5,309.2 322.3,306.8 333.0,304.7 C343.7,302.6 356.7,300.1 364.0,298.5 C371.3,296.9 368.9,297.9 377.0,295.3 C385.1,292.7 402.3,286.2 412.8,282.8 C423.3,279.4 432.2,277.3 440.0,274.7 C447.8,272.1 448.9,273.4 459.6,267.4 C470.3,261.4 490.3,245.9 504.0,238.8 C517.7,231.7 527.7,231.1 542.0,224.6 C556.3,218.1 577.1,207.0 590.0,199.6 C602.9,192.2 611.1,186.3 619.4,180.0 C627.7,173.7 634.6,166.2 640.0,162.0 C645.4,157.8 646.7,157.2 651.5,155.0 C656.3,152.8 663.0,150.5 668.8,148.6 C674.5,146.7 681.2,145.0 686.0,143.4 C690.8,141.8 693.8,140.5 697.7,138.8 C701.6,137.1 705.4,134.5 709.2,133.0 C713.0,131.5 716.9,130.6 720.7,129.8 C724.6,129.1 721.6,128.6 732.3,128.5 C743.0,128.4 773.0,128.7 785.0,129.1 C797.0,129.5 799.0,129.7 804.3,130.8 C809.6,132.0 812.8,134.9 817.0,136.0 C821.2,137.1 824.2,137.4 829.7,137.6 C835.2,137.8 841.0,137.1 850.0,137.1 C859.0,137.1 874.4,137.1 883.5,137.6 C892.6,138.1 898.4,139.7 904.7,140.3 C911.1,140.9 914.6,141.6 921.6,141.4 C928.6,141.2 937.3,140.5 947.0,139.3 C956.7,138.1 971.8,135.1 980.0,134.0 C988.2,132.9 993.3,133.2 996.0,133.0" fill="none" stroke="#a0a02e" stroke-width="1.3"/>
<line x1="628" y1="106" x2="1006" y2="109" stroke="#f5e61e" stroke-width="3.7" stroke-linecap="round"/>
<polygon points="1016.2,109.4 1004.2,103.4 1006.6,109 1004.2,114.3" fill="#f5e61e"/>
<line x1="935" y1="463" x2="1014" y2="486" stroke="#f5e61e" stroke-width="4.3" stroke-linecap="round"/>
<polygon points="1025.5,488.8 1015.4,481.0 1012,491.2" fill="#f5e61e"/>
<polygon points="700.5,87.3 703.2,87.3 703.4,94.9 706.0,94.6 698.6,104.6 695.2,93.5 700.3,93.8" fill="#e8202a"/>
<polygon points="886.7,92.0 889.8,92.0 890.0,97.3 893.4,97.0 887.0,106.3 883.3,96.4 886.5,96.7" fill="#e8202a"/>
<polygon points="979.3,87.8 982.2,87.8 982.4,93.3 985.1,93.0 978.5,102.8 974.7,92.1 979.1,92.4" fill="#e8202a"/>
<text x="5.50" y="14.7" fill="#b84a78" stroke="#b84a78" stroke-width="0.3" font-size="9" textLength="18.75" lengthAdjust="spacingAndGlyphs">日経</text>
<text x="24.6" y="15" fill="#b84a78" stroke="#b84a78" stroke-width="0.2" font-size="10" textLength="17.6" lengthAdjust="spacingAndGlyphs">225</text>
<text x="204.50" y="14.7" fill="#42acb6" stroke="#42acb6" stroke-width="0.3" font-size="9" textLength="26.00" lengthAdjust="spacingAndGlyphs">現在値</text>
<text x="248.95" y="13.95" fill="#b0ac3a" stroke="#b0ac3a" stroke-width="0.5" font-size="8.7" textLength="43.40" lengthAdjust="spacingAndGlyphs">50,339.48</text>
<text x="329.55" y="13.95" fill="#36a43e" stroke="#36a43e" stroke-width="0.5" font-size="8.7" textLength="32.80" lengthAdjust="spacingAndGlyphs">-187.44</text>
<text x="397.05" y="13.95" fill="#36a43e" stroke="#36a43e" stroke-width="0.5" font-size="8.7" textLength="31.90" lengthAdjust="spacingAndGlyphs">-0.37%</text>
<text x="437.55" y="13.95" fill="#b0ac3a" stroke="#b0ac3a" stroke-width="0.5" font-size="8.7" textLength="39.15" lengthAdjust="spacingAndGlyphs">25/12/30</text>
<text x="483.30" y="13.95" fill="#b0ac3a" stroke="#b0ac3a" stroke-width="0.5" font-size="8.7" textLength="24.90" lengthAdjust="spacingAndGlyphs">15:45</text>
<text x="4.50" y="30.8" fill="#42acb6" stroke="#42acb6" stroke-width="0.3" font-size="9" textLength="18.25" lengthAdjust="spacingAndGlyphs">始値</text>
<text x="45.80" y="29.9" fill="#b0ac3a" stroke="#b0ac3a" stroke-width="0.5" font-size="8.7" textLength="43.40" lengthAdjust="spacingAndGlyphs">50,312.85</text>
<text x="92.55" y="29.9" fill="#b0ac3a" stroke="#b0ac3a" stroke-width="0.5" font-size="8.7" textLength="25.90" lengthAdjust="spacingAndGlyphs">09:00</text>
<text x="130.75" y="30.8" fill="#42acb6" stroke="#42acb6" stroke-width="0.3" font-size="9" textLength="17.75" lengthAdjust="spacingAndGlyphs">高値</text>
<text x="172.05" y="29.9" fill="#b0ac3a" stroke="#b0ac3a" stroke-width="0.5" font-size="8.7" textLength="43.40" lengthAdjust="spacingAndGlyphs">50,534.64</text>
<text x="219.55" y="29.9" fill="#b0ac3a" stroke="#b0ac3a" stroke-width="0.5" font-size="8.7" textLength="25.30" lengthAdjust="spacingAndGlyphs">13:36</text>
<text x="257.50" y="30.8" fill="#42acb6" stroke="#42acb6" stroke-width="0.3" font-size="9" textLength="17.40" lengthAdjust="spacingAndGlyphs">安値</text>
<text x="298.30" y="29.9" fill="#b0ac3a" stroke="#b0ac3a" stroke-width="0.5" font-size="8.7" textLength="42.15" lengthAdjust="spacingAndGlyphs">50,198.97</text>
<text x="345.15" y="29.9" fill="#b0ac3a" stroke="#b0ac3a" stroke-width="0.5" font-size="8.7" textLength="25.30" lengthAdjust="spacingAndGlyphs">09:19</text>
<text x="383.90" y="30.8" fill="#42acb6" stroke="#42acb6" stroke-width="0.3" font-size="9" textLength="34.35" lengthAdjust="spacingAndGlyphs">前日終値</text>
<text x="441.45" y="29.9" fill="#b0ac3a" stroke="#b0ac3a" stroke-width="0.5" font-size="8.7" textLength="43.40" lengthAdjust="spacingAndGlyphs">50,526.92</text>
<text x="493.25" y="30.8" fill="#42acb6" stroke="#42acb6" stroke-width="0.3" font-size="9" textLength="25.75" lengthAdjust="spacingAndGlyphs">出来高</text>
<text x="583.30" y="29.9" fill="#b0ac3a" stroke="#b0ac3a" stroke-width="0.5" font-size="8.7" textLength="5.90" lengthAdjust="spacingAndGlyphs">0</text>
<text x="2.6" y="438.3" fill="#9a9aa0" font-size="9" textLength="24.8" lengthAdjust="spacingAndGlyphs">出来高</text>
</svg>
</body></html>
